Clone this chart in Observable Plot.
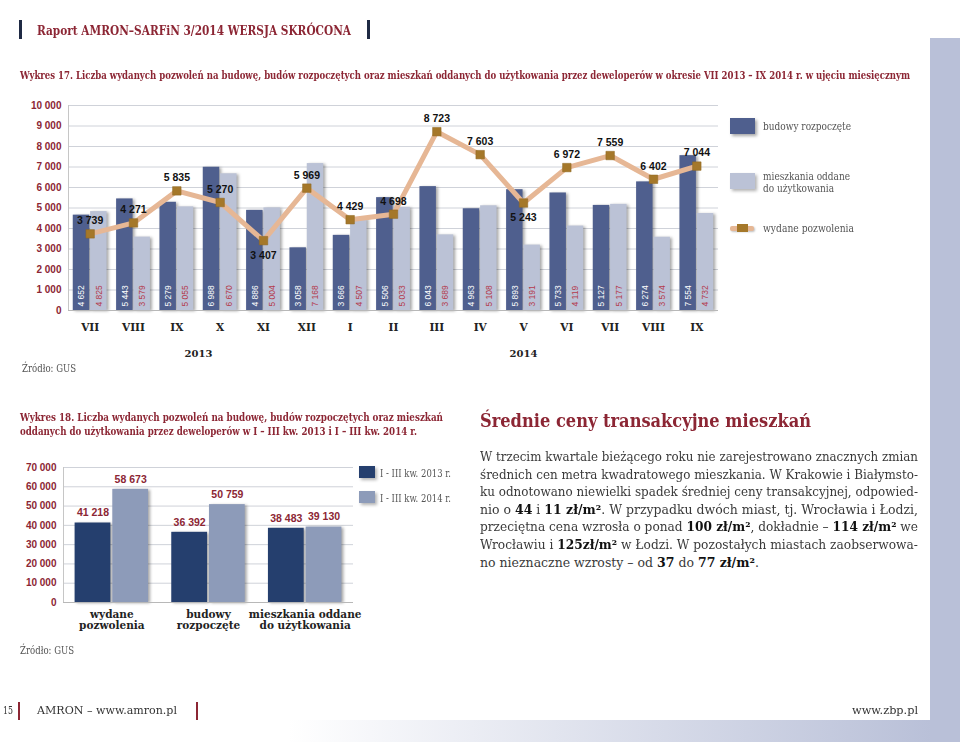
<!DOCTYPE html>
<html>
<head>
<meta charset="utf-8">
<script src="https://cdn.jsdelivr.net/npm/d3@7"></script>
<script src="https://cdn.jsdelivr.net/npm/@observablehq/plot@0.6"></script>
<style>
  body { margin: 0; background: #fff; }
  #page { position: relative; width: 960px; height: 742px; overflow: hidden; background: #fff; font-family: "DejaVu Serif", serif; }
  .abs { position: absolute; white-space: nowrap; }
  .plot { position: absolute; }
  .plot g[aria-label="rect"] { filter: drop-shadow(2px 1px 1.5px rgba(0,0,0,0.35)); }
  b { font-weight: bold; color: #111; }
</style>
</head>
<body>
<div id="page"></div>
<script>
// ---------- Data: Wykres 17 (monthly, VII 2013 – IX 2014) ----------
const months = ["VII", "VIII", "IX", "X", "XI", "XII", "I", "II", "III", "IV", "V", "VI", "VII", "VIII", "IX"];
const monthYear = [0, 0, 0, 0, 0, 0, 1, 1, 1, 1, 1, 1, 1, 1, 1];
const years = ["2013", "2014"];
const started = [4652, 5443, 5279, 6988, 4886, 3058, 3666, 5506, 6043, 4963, 5893, 5733, 5127, 6274, 7554];
const completed = [4825, 3579, 5055, 6670, 5004, 7168, 4507, 5033, 3689, 5108, 3191, 4119, 5177, 3574, 4732];
const permits = [3739, 4271, 5835, 5270, 3407, 5969, 4429, 4698, 8723, 7603, 5243, 6972, 7559, 6402, 7044];
const series1 = ["budowy rozpoczęte", "mieszkania oddane do użytkowania", "wydane pozwolenia"];

// ---------- Data: Wykres 18 (I–III kw. 2013 vs 2014) ----------
const categories2 = ["wydane\npozwolenia", "budowy\nrozpoczęte", "mieszkania oddane\ndo użytkowania"];
const values2013 = [41218, 36392, 38483];
const values2014 = [58673, 50759, 39130];
const periods2 = ["I - III kw. 2013 r.", "I - III kw. 2014 r."];

// ---------- Styles ----------
const RED = "#8c2634";
const DARK1 = "#4f5f8e", LIGHT1 = "#bbc2d6", LINE1 = "#e6b795", MARK1 = "#a5782a";
const DARK2 = "#253f6e", LIGHT2 = "#8d9bb9";
const SANS = "Liberation Sans, Arial, sans-serif";
const SERIF = "DejaVu Serif, serif";
const fmt = d => d3.format(",")(d).replace(/,/g, " ");

const page = document.getElementById("page");

function box(x, y, w, h, css) {
  const d = document.createElement("div");
  d.className = "abs";
  Object.assign(d.style, {left: x + "px", top: y + "px", width: w + "px", height: h + "px"}, css || {});
  page.appendChild(d);
  return d;
}
function addText(html, x, cy, o) {
  const d = document.createElement("div");
  d.className = "abs";
  const lh = o.lh || Math.round(o.size * 1.3);
  Object.assign(d.style, {
    left: x + "px", top: (cy - lh / 2) + "px", fontSize: o.size + "px", lineHeight: lh + "px",
    fontWeight: o.weight || "normal", color: o.color || "#333", fontFamily: o.family || SERIF,
    display: "inline-block", transformOrigin: "0 0"
  });
  d.innerHTML = html;
  page.appendChild(d);
  if (o.width) {
    const a = d.getBoundingClientRect().width;
    if (o.mode === "justify") {
      if (a > o.width) d.style.transform = `scaleX(${o.width / a})`;
      else {
        const n = (d.textContent.match(/ /g) || []).length;
        if (n) d.style.wordSpacing = ((o.width - a) / n) + "px";
      }
    } else if (o.mode === "max") {
      if (a > o.width) d.style.transform = `scaleX(${o.width / a})`;
    } else {
      d.style.transform = `scaleX(${o.width / a})`;
    }
  }
  return d;
}

// ---------- Page decoration ----------
box(930, 38, 30, 682, {background: "#b9c0d8"});
box(0, 720, 960, 22, {background: "linear-gradient(to right, #ffffff 0%, #ffffff 30%, #b9c0d8 97%)"});
box(19, 20, 2.5, 19, {background: "#1f2a44"});
box(367, 20, 2.5, 19, {background: "#1f2a44"});
addText("Raport AMRON–SARFiN 3/2014 WERSJA SKRÓCONA", 37, 30, {size: 13, weight: "bold", color: RED, width: 314});

// Footer
addText("15", 3, 711, {size: 11, color: "#333", width: 10});
box(18, 702, 1.5, 18, {background: RED});
addText("AMRON – www.amron.pl", 37, 711, {size: 11, color: "#333", width: 140});
box(196, 702, 1.5, 18, {background: RED});
addText("www.zbp.pl", 852, 711, {size: 11, color: "#333", width: 66});

// ---------- Wykres 17 ----------
addText("Wykres 17. Liczba wydanych pozwoleń na budowę, budów rozpoczętych oraz mieszkań oddanych do użytkowania przez deweloperów w okresie VII 2013 – IX 2014 r. w ujęciu miesięcznym",
  20, 76, {size: 11, weight: "bold", color: RED, width: 890});

const idx = d3.range(months.length);
const isLow = i => i > 0 && i < permits.length - 1 &&
  permits[i - 1] - permits[i] > 1000 && permits[i + 1] - permits[i] > 1000;
const aboveIdx = idx.filter(i => !isLow(i));
const belowIdx = idx.filter(isLow);

const chart1 = Plot.plot({
  width: 725, height: 270,
  marginLeft: 68, marginRight: 7, marginTop: 10, marginBottom: 55,
  style: {fontFamily: SANS, fontSize: "10px", fontWeight: "bold", color: RED, background: "transparent", overflow: "visible"},
  x: {domain: [-0.5, months.length - 0.5], axis: null},
  y: {domain: [0, 10000], ticks: 10, tickFormat: fmt, tickSize: 0, tickPadding: 7, label: null},
  marks: [
    Plot.ruleY(d3.range(0, 10001, 1000), {stroke: "#cfd2d9"}),
    Plot.ruleX([-0.5], {stroke: "#c6c6c6"}),
    Plot.rectY(idx, {x1: i => i - 0.39, x2: i => i - 0.01, y: i => started[i], fill: DARK1}),
    Plot.rectY(idx, {x1: i => i + 0.01, x2: i => i + 0.39, y: i => completed[i], fill: LIGHT1}),
    Plot.ruleY([0], {stroke: "#b8b8b8"}),
    Plot.text(idx, {x: i => i - 0.2, y: 0, text: i => fmt(started[i]), rotate: -90, textAnchor: "start", dy: -4,
      fill: "white", fontSize: 8.5, fontWeight: "normal"}),
    Plot.text(idx, {x: i => i + 0.2, y: 0, text: i => fmt(completed[i]), rotate: -90, textAnchor: "start", dy: -4,
      fill: "#b43a4c", fontSize: 8.5, fontWeight: "normal"}),
    Plot.line(idx, {x: i => i, y: i => permits[i], stroke: LINE1, strokeWidth: 5, strokeLinejoin: "round", strokeLinecap: "round"}),
    Plot.dot(idx, {x: i => i, y: i => permits[i], symbol: "square", r: 4.8, fill: MARK1, stroke: "#8f6620", strokeWidth: 0.5}),
    Plot.text(aboveIdx, {x: i => i, y: i => permits[i], text: i => fmt(permits[i]), dy: -13, fill: "#111", fontSize: 10.5}),
    Plot.text(belowIdx, {x: i => i, y: i => permits[i], text: i => fmt(permits[i]), dy: 15, fill: "#111", fontSize: 10.5}),
    Plot.text(idx, {x: i => i, frameAnchor: "bottom", text: i => months[i], dy: 20,
      fontFamily: SERIF, fontSize: 10.5, fontWeight: "bold", fill: "#222"}),
    Plot.text(years, {x: (d, k) => d3.mean(idx.filter(i => monthYear[i] === k)), frameAnchor: "bottom", text: d => d, dy: 46,
      fontFamily: SERIF, fontSize: 10, fontWeight: "bold", fill: "#222"})
  ]
});
chart1.classList.add("plot");
chart1.style.left = "0px";
chart1.style.top = "95px";
page.appendChild(chart1);

// Legend 1
box(730, 118, 25, 16, {background: DARK1, boxShadow: "2px 2px 3px rgba(0,0,0,0.35)"});
addText(series1[0], 763, 126, {size: 10.5, color: "#555", width: 88});
box(730, 173, 25, 16, {background: LIGHT1, boxShadow: "2px 2px 3px rgba(0,0,0,0.3)"});
addText("mieszkania oddane", 763, 176.5, {size: 10.5, lh: 11, color: "#555", width: 87});
addText("do użytkowania", 763, 188, {size: 10.5, lh: 11, color: "#555", width: 71});
box(730, 226, 24, 4.5, {background: LINE1, borderRadius: "2px", boxShadow: "1px 1px 2px rgba(0,0,0,0.25)"});
box(737, 224, 11, 8, {background: MARK1});
addText(series1[2], 763, 228, {size: 10.5, color: "#555", width: 91});

addText("Źródło: GUS", 22, 368, {size: 10.5, color: "#555", width: 54});

// ---------- Wykres 18 ----------
addText("Wykres 18. Liczba wydanych pozwoleń na budowę, budów rozpoczętych oraz mieszkań", 20, 417, {size: 10.5, weight: "bold", color: RED, width: 423});
addText("oddanych do użytkowania przez deweloperów w I – III kw. 2013 i I – III kw. 2014 r.", 20, 431, {size: 10.5, weight: "bold", color: RED, width: 397});

const cidx = d3.range(categories2.length);
const chart2 = Plot.plot({
  width: 360, height: 185,
  marginLeft: 63, marginRight: 7, marginTop: 12, marginBottom: 38,
  style: {fontFamily: SANS, fontSize: "10px", fontWeight: "bold", color: RED, background: "transparent", overflow: "visible"},
  x: {domain: [-0.5, categories2.length - 0.5], axis: null},
  y: {domain: [0, 70000], ticks: 7, tickFormat: fmt, tickSize: 0, tickPadding: 7, label: null},
  marks: [
    Plot.ruleY(d3.range(0, 70001, 10000), {stroke: "#cfd2d9"}),
    Plot.ruleX([-0.5], {stroke: "#c6c6c6"}),
    Plot.rectY(cidx, {x1: i => i - 0.38, x2: i => i - 0.01, y: i => values2013[i], fill: DARK2}),
    Plot.rectY(cidx, {x1: i => i + 0.01, x2: i => i + 0.38, y: i => values2014[i], fill: LIGHT2}),
    Plot.ruleY([0], {stroke: "#b8b8b8"}),
    Plot.text(cidx, {x: i => i - 0.195, y: i => values2013[i], text: i => fmt(values2013[i]), dy: -10, fill: RED, fontSize: 10.5}),
    Plot.text(cidx, {x: i => i + 0.195, y: i => values2014[i], text: i => fmt(values2014[i]), dy: -10, fill: RED, fontSize: 10.5}),
    Plot.text(cidx, {x: i => i, frameAnchor: "bottom", text: i => categories2[i], dy: 7, lineAnchor: "top", lineHeight: 1.1,
      fontFamily: SERIF, fontSize: 10.5, fontWeight: "bold", fill: "#222"})
  ]
});
chart2.classList.add("plot");
chart2.style.left = "0px";
chart2.style.top = "455px";
page.appendChild(chart2);

// Legend 2
box(359, 466, 16, 12, {background: DARK2, boxShadow: "2px 2px 3px rgba(0,0,0,0.3)"});
addText(periods2[0], 380, 472.5, {size: 10.5, color: "#555", width: 71});
box(359, 491, 16, 12, {background: LIGHT2, boxShadow: "2px 2px 3px rgba(0,0,0,0.3)"});
addText(periods2[1], 380, 497.5, {size: 10.5, color: "#555", width: 71});

addText("Źródło: GUS", 20, 650, {size: 10.5, color: "#555", width: 54});

// ---------- Text column ----------
addText("Średnie ceny transakcyjne mieszkań", 480, 420, {size: 19, weight: "bold", color: RED, width: 331});
const para = [
  "W trzecim kwartale bieżącego roku nie zarejestrowano znacznych zmian",
  "średnich cen metra kwadratowego mieszkania. W Krakowie i Białymsto-",
  "ku odnotowano niewielki spadek średniej ceny transakcyjnej, odpowied-",
  "nio o <b>44</b> i <b>11 zł/m²</b>. W przypadku dwóch miast, tj. Wrocławia i Łodzi,",
  "przeciętna cena wzrosła o ponad <b>100 zł/m²</b>, dokładnie – <b>114 zł/m²</b> we",
  "Wrocławiu i <b>125zł/m²</b> w Łodzi. W pozostałych miastach zaobserwowa-",
  "no nieznaczne wzrosty – od <b>37</b> do <b>77 zł/m²</b>."
];
para.forEach((line, k) => {
  const last = k === para.length - 1;
  addText(line, 480, 457 + k * 17.6, {size: 12.5, lh: 16, color: "#3a3a3a", width: last ? 290 : 438, mode: last ? "max" : "justify"});
});
</script>
</body>
</html>
